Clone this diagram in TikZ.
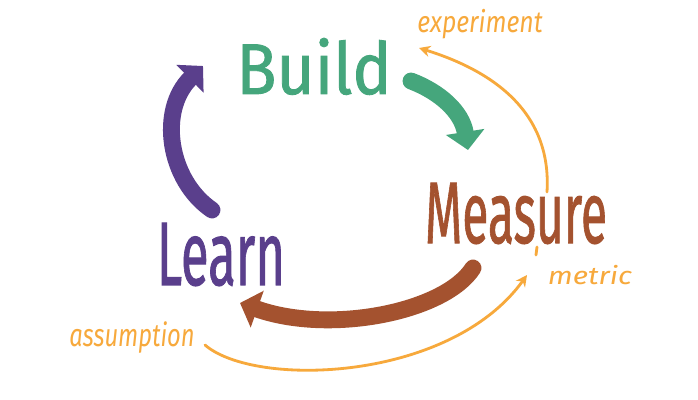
\documentclass[tikz,border=0pt]{standalone}
\usepackage{fontspec}
\setmainfont{Fira Sans}
\newfontfamily\markerfont[FakeBold=1.2]{Fira Sans}
\definecolor{buildgreen}{HTML}{45A67C}
\definecolor{measurebrown}{HTML}{A4522F}
\definecolor{learnpurple}{HTML}{5A3F8C}
\definecolor{noteorange}{HTML}{F7A93C}
\usetikzlibrary{arrows.meta}
\tikzset{
  word/.style   = {inner sep=0pt,anchor=base,font=\markerfont},
  note/.style   = {inner sep=0pt,anchor=base,text=noteorange,font=\itshape},
  brush/.style  = {line width=12pt,line cap=round,
                   -{Triangle[length=13pt,width=27pt]}},
  trace/.style  = {line width=2pt,draw=noteorange,line cap=round,
                   -{Stealth[length=8pt,width=8pt]}},
}

\begin{document}
\begin{tikzpicture}[x=0.025cm,y=-0.025cm]
  \useasboundingbox[fill=white] (0,0) rectangle (698,400);

  % The three stages
  \node[word,text=buildgreen] (build) at (314,94)
      {\resizebox{3.88cm}{1.4cm}{Build}};
  \node[word,text=measurebrown] (measure) at (516,243)
      {\resizebox{4.55cm}{1.5cm}{Measure}};
  \node[word,text=learnpurple] (learn) at (221,285)
      {\resizebox{3.2cm}{1.55cm}{Learn}};

  % Side notes
  \node[note] (experiment) at (480,33) {\resizebox{3.13cm}{0.58cm}{experiment}};
  \node[note] (metric) at (590,285) {\resizebox{2.1cm}{0.48cm}{metric}};
  \node[note] (assumption) at (132,347) {\resizebox{3.13cm}{0.62cm}{assumption}};

  % End points of the loop
  \coordinate (l2b-s) at (212,210);
  \coordinate (l2b-e) at (203,66);
  \coordinate (b2m-s) at (411,81);
  \coordinate (b2m-e) at (468,150);
  \coordinate (m2l-s) at (473,268);
  \coordinate (m2l-e) at (240,303);
  \coordinate (exp-s) at (547,192);
  \coordinate (exp-e) at (419,48);
  \coordinate (met-s) at (205,345);
  \coordinate (met-e) at (527,275);

  % Build - Measure - Learn loop
  \draw[brush,learnpurple] (l2b-s) .. controls (168,180) and (158,110) .. (l2b-e);
  \draw[brush,buildgreen] (b2m-s) .. controls (440,92) and (462,112) .. (b2m-e);
  \draw[brush,measurebrown] (m2l-s) .. controls (445,312) and (330,335) .. (m2l-e);

  % Outer thin loop
  \draw[trace] (exp-s) .. controls (552,110) and (490,70) .. (exp-e);
  \draw[trace] (met-s) .. controls (255,388) and (450,382) .. (met-e);
  \draw[line width=2pt,noteorange,line cap=round] (537,247) -- (536,255);
\end{tikzpicture}
\end{document}
